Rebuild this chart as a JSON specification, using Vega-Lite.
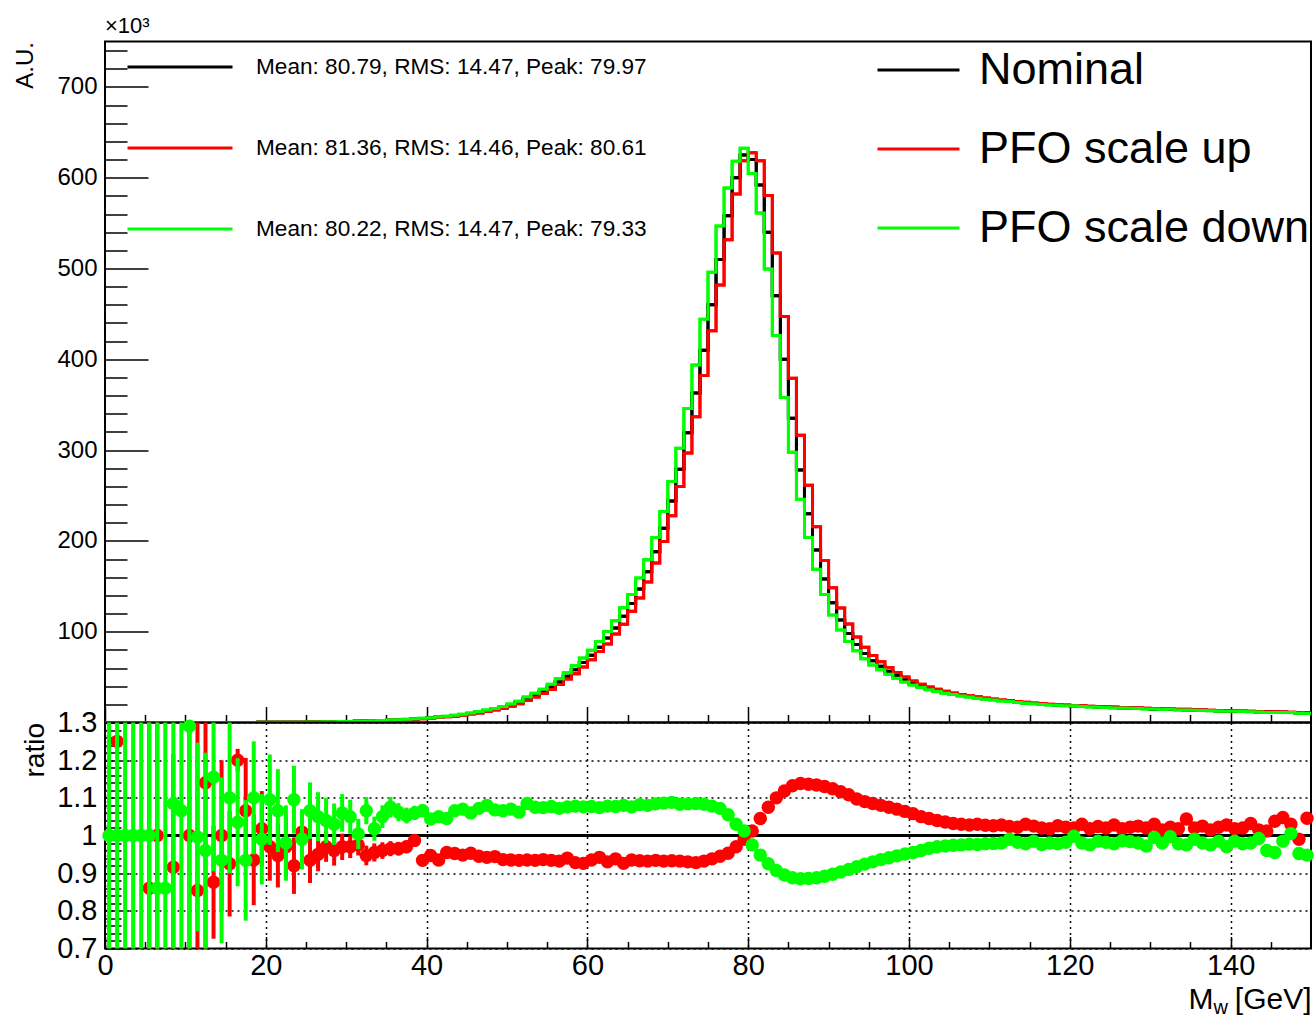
{
"$schema": "https://vega.github.io/schema/vega-lite/v6.json",
"autosize": {"type": "pad"},
"padding": {"left": 11, "top": 12.5, "right": 0, "bottom": 0},
"background": "white",
"spacing": 0,
"bounds": "flush",
"config": {
  "font": "Liberation Sans",
  "view": {"stroke": "black", "strokeWidth": 2},
  "axis": {"domain": false, "labelColor": "black", "titleColor": "black", "tickColor": "black", "labelFont": "Liberation Sans", "titleFont": "Liberation Sans", "titleFontWeight": "normal", "grid": false, "tickWidth": 1.5, "labelFlush": false, "labelOverlap": false},
  "legend": {"labelFont": "Liberation Sans", "labelColor": "black"}
},
"datasets": {
"hist": [
{"x":0,"n":0.002,"u":0.002,"d":0.002},{"x":1,"n":0.003,"u":0.003,"d":0.003},{"x":2,"n":0.004,"u":0.004,"d":0.004},{"x":3,"n":0.005,"u":0.005,"d":0.005},{"x":4,"n":0.006,"u":0.006,"d":0.006},{"x":5,"n":0.008,"u":0.008,"d":0.008},{"x":6,"n":0.01,"u":0.01,"d":0.01},{"x":7,"n":0.013,"u":0.013,"d":0.013},{"x":8,"n":0.016,"u":0.016,"d":0.016},{"x":9,"n":0.02,"u":0.02,"d":0.02},
{"x":10,"n":0.025,"u":0.025,"d":0.025},{"x":11,"n":0.03,"u":0.03,"d":0.03},{"x":12,"n":0.037,"u":0.037,"d":0.037},{"x":13,"n":0.045,"u":0.045,"d":0.045},{"x":14,"n":0.055,"u":0.055,"d":0.055},{"x":15,"n":0.067,"u":0.067,"d":0.067},{"x":16,"n":0.08,"u":0.08,"d":0.08},{"x":17,"n":0.1,"u":0.1,"d":0.1},{"x":18,"n":0.12,"u":0.12,"d":0.12},{"x":19,"n":0.15,"u":0.15,"d":0.15},
{"x":20,"n":0.18,"u":0.18,"d":0.18},{"x":21,"n":0.22,"u":0.22,"d":0.22},{"x":22,"n":0.27,"u":0.27,"d":0.27},{"x":23,"n":0.33,"u":0.33,"d":0.33},{"x":24,"n":0.4,"u":0.4,"d":0.4},{"x":25,"n":0.48,"u":0.48,"d":0.48},{"x":26,"n":0.58,"u":0.58,"d":0.58},{"x":27,"n":0.7,"u":0.7,"d":0.7},{"x":28,"n":0.83,"u":0.83,"d":0.83},{"x":29,"n":0.98,"u":0.98,"d":0.98},
{"x":30,"n":1.15,"u":1.12,"d":1.21},{"x":31,"n":1.35,"u":1.32,"d":1.36},{"x":32,"n":1.57,"u":1.49,"d":1.67},{"x":33,"n":1.82,"u":1.74,"d":1.85},{"x":34,"n":2.1,"u":2.02,"d":2.21},{"x":35,"n":2.45,"u":2.36,"d":2.63},{"x":36,"n":2.85,"u":2.75,"d":3.03},{"x":37,"n":3.3,"u":3.2,"d":3.47},{"x":38,"n":3.8,"u":3.75,"d":4.03},{"x":39,"n":4.4,"u":4.11,"d":4.69},
{"x":40,"n":5.1,"u":4.83,"d":5.32},{"x":41,"n":5.8,"u":5.42,"d":6.09},{"x":42,"n":6.6,"u":6.3,"d":6.9},{"x":43,"n":7.5,"u":7.14,"d":8},{"x":44,"n":8.6,"u":8.15,"d":9.2},{"x":45,"n":9.8,"u":9.34,"d":10.39},{"x":46,"n":11.2,"u":10.58,"d":12.01},{"x":47,"n":12.8,"u":12.06,"d":13.82},{"x":48,"n":14.5,"u":13.69,"d":15.49},{"x":49,"n":16.5,"u":15.44,"d":17.59},
{"x":50,"n":19,"u":17.77,"d":20.33},{"x":51,"n":22,"u":20.55,"d":23.36},{"x":52,"n":26,"u":24.31,"d":28.21},{"x":53,"n":30,"u":28.02,"d":32.25},{"x":54,"n":34,"u":31.82,"d":36.52},{"x":55,"n":39,"u":36.43,"d":42},{"x":56,"n":45,"u":41.94,"d":48.24},{"x":57,"n":51,"u":47.94,"d":54.88},{"x":58,"n":58,"u":53.82,"d":62.52},{"x":59,"n":66,"u":61.12,"d":71.02},
{"x":60,"n":74,"u":69.19,"d":79.7},{"x":61,"n":83,"u":78.19,"d":89.14},{"x":62,"n":93,"u":86.49,"d":100.25},{"x":63,"n":104,"u":97.55,"d":112.01},{"x":64,"n":117,"u":108.34,"d":126.36},{"x":65,"n":131,"u":122.49,"d":140.96},{"x":66,"n":147,"u":137.15,"d":159.05},{"x":67,"n":166,"u":154.71,"d":179.28},{"x":68,"n":188,"u":175.59,"d":203.79},{"x":69,"n":214,"u":199.45,"d":232.4},
{"x":70,"n":244,"u":227.65,"d":265.47},{"x":71,"n":279,"u":260.03,"d":302.16},{"x":72,"n":319,"u":296.67,"d":345.8},{"x":73,"n":363,"u":336.86,"d":393.86},{"x":74,"n":410,"u":382.12,"d":444.03},{"x":75,"n":460,"u":431.48,"d":495.88},{"x":76,"n":510,"u":481.95,"d":546.72},{"x":77,"n":558,"u":531.77,"d":588.69},{"x":78,"n":600,"u":582,"d":618},{"x":79,"n":625,"u":618.75,"d":632.5},
{"x":80,"n":620,"u":627.4,"d":604.5},{"x":81,"n":592,"u":618.6,"d":561.2},{"x":82,"n":540,"u":580.5,"d":499.5},{"x":83,"n":470,"u":517,"d":426.3},{"x":84,"n":400,"u":447.2,"d":358},{"x":85,"n":335,"u":379.2,"d":297.5},{"x":86,"n":278,"u":316.4,"d":246},{"x":87,"n":230,"u":261.3,"d":203.8},{"x":88,"n":190,"u":215.5,"d":168.7},{"x":89,"n":158,"u":178.5,"d":140.9},
{"x":90,"n":132,"u":148.4,"d":118.4},{"x":91,"n":113,"u":126.1,"d":102},{"x":92,"n":98,"u":108.6,"d":89.2},{"x":93,"n":86,"u":94.3,"d":78.9},{"x":94,"n":76,"u":82.8,"d":70.2},{"x":95,"n":68,"u":73.8,"d":63.2},{"x":96,"n":62,"u":67,"d":58},{"x":97,"n":56.5,"u":60.7,"d":53.2},{"x":98,"n":51.5,"u":55.1,"d":48.7},{"x":99,"n":47,"u":50,"d":44.7},
{"x":100,"n":43.3,"u":45.8,"d":41.4},{"x":101,"n":40.2,"u":42.2,"d":38.6},{"x":102,"n":37.5,"u":39.2,"d":36.2},{"x":103,"n":35.2,"u":36.6,"d":34.1},{"x":104,"n":33.2,"u":34.4,"d":32.3},{"x":105,"n":31.5,"u":32.5,"d":30.7},{"x":106,"n":30,"u":30.9,"d":29.3},{"x":107,"n":28.7,"u":29.5,"d":28},{"x":108,"n":27.5,"u":28.3,"d":26.8},{"x":109,"n":26.3,"u":27,"d":25.7},
{"x":110,"n":25.2,"u":25.9,"d":24.7},{"x":111,"n":24.2,"u":24.9,"d":23.7},{"x":112,"n":23.3,"u":23.9,"d":23.1},{"x":113,"n":22.5,"u":23,"d":22.1},{"x":114,"n":21.7,"u":22.4,"d":21.2},{"x":115,"n":21,"u":21.5,"d":20.7},{"x":116,"n":20.4,"u":20.8,"d":19.9},{"x":117,"n":19.8,"u":20.2,"d":19.4},{"x":118,"n":19.3,"u":19.8,"d":18.9},{"x":119,"n":18.8,"u":19.2,"d":18.5},
{"x":120,"n":18.4,"u":18.8,"d":18.4},{"x":121,"n":18,"u":18.5,"d":17.6},{"x":122,"n":17.6,"u":17.9,"d":17.2},{"x":123,"n":17.2,"u":17.6,"d":16.9},{"x":124,"n":16.9,"u":17.2,"d":16.6},{"x":125,"n":16.5,"u":17,"d":16.1},{"x":126,"n":16.2,"u":16.5,"d":16},{"x":127,"n":15.9,"u":16.2,"d":15.6},{"x":128,"n":15.6,"u":16,"d":15.3},{"x":129,"n":15.3,"u":15.6,"d":14.9},
{"x":130,"n":15,"u":15.5,"d":14.9},{"x":131,"n":14.7,"u":14.9,"d":14.4},{"x":132,"n":14.5,"u":14.8,"d":14.5},{"x":133,"n":14.2,"u":14.5,"d":13.9},{"x":134,"n":14,"u":14.6,"d":13.7},{"x":135,"n":13.7,"u":14,"d":13.6},{"x":136,"n":13.5,"u":13.8,"d":13.2},{"x":137,"n":13.2,"u":13.4,"d":12.9},{"x":138,"n":13,"u":13.3,"d":12.8},{"x":139,"n":12.8,"u":13.2,"d":12.4},
{"x":140,"n":12.5,"u":12.7,"d":12.3},{"x":141,"n":12.3,"u":12.5,"d":12},{"x":142,"n":12.1,"u":12.5,"d":11.9},{"x":143,"n":11.8,"u":12,"d":11.7},{"x":144,"n":11.6,"u":11.7,"d":11.1},{"x":145,"n":11.4,"u":11.8,"d":10.9},{"x":146,"n":11.2,"u":11.7,"d":11},{"x":147,"n":11,"u":11.3,"d":11.1},{"x":148,"n":10.8,"u":10.7,"d":10.3},{"x":149,"n":10.6,"u":11.1,"d":10},
{"x":150,"n":10.6,"u":11.1,"d":10}
],
"ratio": [
{"c":0.5,"r":null,"re":null,"g":1.0,"ge":0.8},{"c":1.5,"r":1.25,"re":0,"g":1.0,"ge":0.8},{"c":2.5,"r":null,"re":null,"g":1.0,"ge":0.8},{"c":3.5,"r":null,"re":null,"g":1.0,"ge":0.8},{"c":4.5,"r":null,"re":null,"g":1.0,"ge":0.8},
{"c":5.5,"r":0.86,"re":0.8,"g":1.0,"ge":0.8},{"c":6.5,"r":1.0,"re":0.8,"g":0.86,"ge":0.8},{"c":7.5,"r":null,"re":null,"g":0.86,"ge":0.8},{"c":8.5,"r":0.916,"re":0.3,"g":1.085,"ge":0.8},{"c":9.5,"r":null,"re":null,"g":1.066,"ge":0.8},
{"c":10.5,"r":1.0,"re":0.8,"g":1.29,"ge":0.8},{"c":11.5,"r":0.854,"re":0.6,"g":0.996,"ge":0.25},{"c":12.5,"r":1.14,"re":0.45,"g":0.96,"ge":0.26},{"c":13.5,"r":0.876,"re":0.15,"g":1.155,"ge":0.25},{"c":14.5,"r":1.0,"re":0.2,"g":0.934,"ge":0.22},
{"c":15.5,"r":0.925,"re":0.14,"g":1.1,"ge":0.2},{"c":16.5,"r":1.2,"re":0.03,"g":1.035,"ge":0.17},{"c":17.5,"r":1.066,"re":0.14,"g":0.934,"ge":0.16},{"c":18.5,"r":0.935,"re":0.12,"g":1.1,"ge":0.15},{"c":19.5,"r":1.018,"re":0.1,"g":0.99,"ge":0.12},
{"c":20.5,"r":0.97,"re":0.09,"g":1.095,"ge":0.12},{"c":21.5,"r":0.947,"re":0.085,"g":1.066,"ge":0.11},{"c":22.5,"r":0.97,"re":0.08,"g":0.98,"ge":0.1},{"c":23.5,"r":0.92,"re":0.075,"g":1.095,"ge":0.09},{"c":24.5,"r":1.009,"re":0.05,"g":0.99,"ge":0.08},
{"c":25.5,"r":0.934,"re":0.06,"g":1.066,"ge":0.075},{"c":26.5,"r":0.95,"re":0.045,"g":1.05,"ge":0.065},{"c":27.5,"r":0.97,"re":0.04,"g":1.04,"ge":0.06},{"c":28.5,"r":0.96,"re":0.04,"g":1.03,"ge":0.055},{"c":29.5,"r":0.97,"re":0.035,"g":1.06,"ge":0.05},
{"c":30.5,"r":0.97,"re":0.03,"g":1.05,"ge":0.045},{"c":31.5,"r":0.975,"re":0.028,"g":1.004,"ge":0.04},{"c":32.5,"r":0.947,"re":0.026,"g":1.066,"ge":0.036},{"c":33.5,"r":0.955,"re":0.024,"g":1.018,"ge":0.032},{"c":34.5,"r":0.96,"re":0.022,"g":1.05,"ge":0.03},
{"c":35.5,"r":0.965,"re":0.02,"g":1.075,"ge":0.027},{"c":36.5,"r":0.965,"re":0.018,"g":1.062,"ge":0.024},{"c":37.5,"r":0.97,"re":0.017,"g":1.053,"ge":0.021},{"c":38.5,"r":0.987,"re":0.016,"g":1.06,"ge":0.019},{"c":39.5,"r":0.934,"re":0.015,"g":1.066,"ge":0.017},
{"c":40.5,"r":0.947,"re":0.013,"g":1.044,"ge":0.015},{"c":41.5,"r":0.935,"re":0.012,"g":1.05,"ge":0.013},{"c":42.5,"r":0.955,"re":0.011,"g":1.045,"ge":0.012},{"c":43.5,"r":0.952,"re":0.01,"g":1.066,"ge":0.011},{"c":44.5,"r":0.948,"re":0.01,"g":1.07,"ge":0.01},
{"c":45.5,"r":0.953,"re":0.009,"g":1.06,"ge":0.009},{"c":46.5,"r":0.945,"re":0.009,"g":1.072,"ge":0.009},{"c":47.5,"r":0.942,"re":0.009,"g":1.08,"ge":0.009},{"c":48.5,"r":0.944,"re":0.009,"g":1.068,"ge":0.009},{"c":49.5,"r":0.936,"re":0.009,"g":1.066,"ge":0.009},
{"c":50.5,"r":0.935,"re":0.007,"g":1.07,"ge":0.007},{"c":51.5,"r":0.934,"re":0.007,"g":1.062,"ge":0.007},{"c":52.5,"r":0.935,"re":0.007,"g":1.085,"ge":0.007},{"c":53.5,"r":0.934,"re":0.007,"g":1.075,"ge":0.007},{"c":54.5,"r":0.936,"re":0.007,"g":1.074,"ge":0.007},
{"c":55.5,"r":0.934,"re":0.007,"g":1.077,"ge":0.007},{"c":56.5,"r":0.932,"re":0.007,"g":1.072,"ge":0.007},{"c":57.5,"r":0.94,"re":0.007,"g":1.076,"ge":0.007},{"c":58.5,"r":0.928,"re":0.007,"g":1.078,"ge":0.007},{"c":59.5,"r":0.926,"re":0.007,"g":1.076,"ge":0.007},
{"c":60.5,"r":0.935,"re":0.005,"g":1.077,"ge":0.005},{"c":61.5,"r":0.942,"re":0.005,"g":1.074,"ge":0.005},{"c":62.5,"r":0.93,"re":0.005,"g":1.078,"ge":0.005},{"c":63.5,"r":0.938,"re":0.005,"g":1.077,"ge":0.005},{"c":64.5,"r":0.926,"re":0.005,"g":1.08,"ge":0.005},
{"c":65.5,"r":0.935,"re":0.005,"g":1.076,"ge":0.005},{"c":66.5,"r":0.933,"re":0.005,"g":1.082,"ge":0.005},{"c":67.5,"r":0.932,"re":0.005,"g":1.08,"ge":0.005},{"c":68.5,"r":0.934,"re":0.005,"g":1.084,"ge":0.005},{"c":69.5,"r":0.932,"re":0.005,"g":1.086,"ge":0.005},
{"c":70.5,"r":0.933,"re":0.005,"g":1.088,"ge":0.005},{"c":71.5,"r":0.932,"re":0.005,"g":1.083,"ge":0.005},{"c":72.5,"r":0.93,"re":0.005,"g":1.084,"ge":0.005},{"c":73.5,"r":0.928,"re":0.005,"g":1.085,"ge":0.005},{"c":74.5,"r":0.932,"re":0.005,"g":1.083,"ge":0.005},
{"c":75.5,"r":0.938,"re":0.005,"g":1.078,"ge":0.005},{"c":76.5,"r":0.945,"re":0.005,"g":1.072,"ge":0.005},{"c":77.5,"r":0.953,"re":0.005,"g":1.055,"ge":0.005},{"c":78.5,"r":0.97,"re":0.005,"g":1.03,"ge":0.005},{"c":79.5,"r":0.99,"re":0.005,"g":1.012,"ge":0.005},
{"c":80.5,"r":1.012,"re":0.005,"g":0.975,"ge":0.005},{"c":81.5,"r":1.045,"re":0.005,"g":0.948,"ge":0.005},{"c":82.5,"r":1.075,"re":0.005,"g":0.925,"ge":0.005},{"c":83.5,"r":1.1,"re":0.005,"g":0.907,"ge":0.005},{"c":84.5,"r":1.118,"re":0.005,"g":0.895,"ge":0.005},
{"c":85.5,"r":1.132,"re":0.005,"g":0.888,"ge":0.005},{"c":86.5,"r":1.138,"re":0.005,"g":0.885,"ge":0.005},{"c":87.5,"r":1.136,"re":0.005,"g":0.886,"ge":0.005},{"c":88.5,"r":1.134,"re":0.005,"g":0.888,"ge":0.005},{"c":89.5,"r":1.13,"re":0.005,"g":0.892,"ge":0.005},
{"c":90.5,"r":1.124,"re":0.005,"g":0.897,"ge":0.005},{"c":91.5,"r":1.116,"re":0.005,"g":0.903,"ge":0.005},{"c":92.5,"r":1.108,"re":0.005,"g":0.91,"ge":0.005},{"c":93.5,"r":1.097,"re":0.005,"g":0.917,"ge":0.005},{"c":94.5,"r":1.09,"re":0.005,"g":0.924,"ge":0.005},
{"c":95.5,"r":1.085,"re":0.005,"g":0.93,"ge":0.005},{"c":96.5,"r":1.08,"re":0.005,"g":0.936,"ge":0.005},{"c":97.5,"r":1.075,"re":0.005,"g":0.941,"ge":0.005},{"c":98.5,"r":1.07,"re":0.005,"g":0.946,"ge":0.005},{"c":99.5,"r":1.064,"re":0.005,"g":0.951,"ge":0.005},
{"c":100.5,"r":1.058,"re":0.005,"g":0.955,"ge":0.005},{"c":101.5,"r":1.05,"re":0.007,"g":0.96,"ge":0.007},{"c":102.5,"r":1.045,"re":0.007,"g":0.966,"ge":0.007},{"c":103.5,"r":1.04,"re":0.007,"g":0.97,"ge":0.007},{"c":104.5,"r":1.036,"re":0.007,"g":0.972,"ge":0.007},
{"c":105.5,"r":1.032,"re":0.007,"g":0.974,"ge":0.007},{"c":106.5,"r":1.03,"re":0.007,"g":0.975,"ge":0.007},{"c":107.5,"r":1.028,"re":0.007,"g":0.977,"ge":0.007},{"c":108.5,"r":1.03,"re":0.007,"g":0.976,"ge":0.007},{"c":109.5,"r":1.027,"re":0.007,"g":0.978,"ge":0.007},
{"c":110.5,"r":1.026,"re":0.007,"g":0.979,"ge":0.007},{"c":111.5,"r":1.028,"re":0.007,"g":0.98,"ge":0.007},{"c":112.5,"r":1.024,"re":0.007,"g":0.99,"ge":0.007},{"c":113.5,"r":1.022,"re":0.007,"g":0.982,"ge":0.007},{"c":114.5,"r":1.03,"re":0.007,"g":0.978,"ge":0.007},
{"c":115.5,"r":1.025,"re":0.007,"g":0.985,"ge":0.007},{"c":116.5,"r":1.02,"re":0.007,"g":0.976,"ge":0.007},{"c":117.5,"r":1.018,"re":0.007,"g":0.98,"ge":0.007},{"c":118.5,"r":1.026,"re":0.007,"g":0.978,"ge":0.007},{"c":119.5,"r":1.022,"re":0.007,"g":0.982,"ge":0.007},
{"c":120.5,"r":1.02,"re":0.007,"g":0.998,"ge":0.007},{"c":121.5,"r":1.03,"re":0.01,"g":0.98,"ge":0.01},{"c":122.5,"r":1.018,"re":0.01,"g":0.975,"ge":0.01},{"c":123.5,"r":1.024,"re":0.01,"g":0.985,"ge":0.01},{"c":124.5,"r":1.02,"re":0.01,"g":0.982,"ge":0.01},
{"c":125.5,"r":1.028,"re":0.01,"g":0.978,"ge":0.01},{"c":126.5,"r":1.018,"re":0.01,"g":0.986,"ge":0.01},{"c":127.5,"r":1.022,"re":0.01,"g":0.984,"ge":0.01},{"c":128.5,"r":1.025,"re":0.01,"g":0.98,"ge":0.01},{"c":129.5,"r":1.02,"re":0.01,"g":0.972,"ge":0.01},
{"c":130.5,"r":1.03,"re":0.01,"g":0.995,"ge":0.01},{"c":131.5,"r":1.015,"re":0.01,"g":0.98,"ge":0.01},{"c":132.5,"r":1.022,"re":0.01,"g":0.997,"ge":0.01},{"c":133.5,"r":1.018,"re":0.01,"g":0.978,"ge":0.01},{"c":134.5,"r":1.044,"re":0.01,"g":0.975,"ge":0.01},
{"c":135.5,"r":1.02,"re":0.01,"g":0.99,"ge":0.01},{"c":136.5,"r":1.025,"re":0.01,"g":0.98,"ge":0.01},{"c":137.5,"r":1.015,"re":0.01,"g":0.975,"ge":0.01},{"c":138.5,"r":1.022,"re":0.01,"g":0.985,"ge":0.01},{"c":139.5,"r":1.028,"re":0.01,"g":0.97,"ge":0.01},
{"c":140.5,"r":1.018,"re":0.01,"g":0.985,"ge":0.01},{"c":141.5,"r":1.02,"re":0.01,"g":0.978,"ge":0.01},{"c":142.5,"r":1.032,"re":0.01,"g":0.98,"ge":0.01},{"c":143.5,"r":1.015,"re":0.01,"g":0.992,"ge":0.01},{"c":144.5,"r":1.012,"re":0.01,"g":0.96,"ge":0.01},
{"c":145.5,"r":1.038,"re":0.01,"g":0.955,"ge":0.01},{"c":146.5,"r":1.048,"re":0.01,"g":0.985,"ge":0.01},{"c":147.5,"r":1.03,"re":0.01,"g":1.005,"ge":0.01},{"c":148.5,"r":0.99,"re":0.01,"g":0.952,"ge":0.01},{"c":149.5,"r":1.046,"re":0.01,"g":0.948,"ge":0.01}
]
},
"vconcat": [
{
  "width": 1206, "height": 681,
  "title": {"text": "×10³", "anchor": "start", "frame": "group", "fontSize": 22, "fontWeight": "normal", "font": "Liberation Sans", "offset": 4, "color": "black"},
  "data": {"name": "hist"},
  "transform": [
    {"fold": ["n", "u", "d"], "as": ["key", "value"]},
    {"lookup": "key", "from": {"data": {"values": [
      {"key": "n", "series": "Nominal", "stats": "Mean: 80.79, RMS: 14.47, Peak: 79.97"},
      {"key": "u", "series": "PFO scale up", "stats": "Mean: 81.36, RMS: 14.46, Peak: 80.61"},
      {"key": "d", "series": "PFO scale down", "stats": "Mean: 80.22, RMS: 14.47, Peak: 79.33"}
    ]}, "key": "key", "fields": ["series", "stats"]}}
  ],
  "layer": [
    {
      "mark": {"type": "line", "interpolate": "step-after", "strokeWidth": 3, "clip": true},
      "encoding": {
        "x": {"field": "x", "type": "quantitative", "scale": {"domain": [0, 150], "nice": false, "zero": false},
              "axis": {"orient": "bottom", "values": [0, 20, 40, 60, 80, 100, 120, 140], "tickSize": -16, "labels": false, "title": null}},
        "y": {"field": "value", "type": "quantitative", "scale": {"domain": [0, 750], "nice": false},
              "axis": {"orient": "left", "values": [100, 200, 300, 400, 500, 600, 700], "tickSize": -43, "labelFontSize": 24, "labelPadding": 51,
                       "title": "A.U.", "titleFontSize": 24, "titleAngle": -90, "titleAlign": "right", "titleBaseline": "top", "titleX": -92, "titleY": 0}},
        "color": {"field": "stats", "type": "nominal",
                  "scale": {"domain": ["Mean: 80.79, RMS: 14.47, Peak: 79.97", "Mean: 81.36, RMS: 14.46, Peak: 80.61", "Mean: 80.22, RMS: 14.47, Peak: 79.33"], "range": ["#000000", "#ff0000", "#00ff00"]},
                  "legend": {"orient": "none", "legendX": 21, "legendY": -28.5, "title": null, "symbolType": "stroke", "symbolSize": 11025, "symbolStrokeWidth": 3,
                             "labelFontSize": 22.6, "labelOffset": 22, "rowPadding": 15, "padding": 0, "labelLimit": 1000}}
      }
    },
    {
      "mark": {"type": "line", "interpolate": "step-after", "strokeWidth": 3, "clip": true},
      "encoding": {
        "x": {"field": "x", "type": "quantitative", "scale": {"domain": [0, 150], "nice": false, "zero": false},
              "axis": {"orient": "bottom", "values": [5, 10, 15, 25, 30, 35, 45, 50, 55, 65, 70, 75, 85, 90, 95, 105, 110, 115, 125, 130, 135, 145], "tickSize": -8, "labels": false, "title": null}},
        "y": {"field": "value", "type": "quantitative", "scale": {"domain": [0, 750], "nice": false},
              "axis": {"orient": "left", "values": [20, 40, 60, 80, 120, 140, 160, 180, 220, 240, 260, 280, 320, 340, 360, 380, 420, 440, 460, 480, 520, 540, 560, 580, 620, 640, 660, 680, 720, 740], "tickSize": -22, "labels": false, "title": null}},
        "stroke": {"field": "series", "type": "nominal",
                   "scale": {"domain": ["Nominal", "PFO scale up", "PFO scale down"], "range": ["#000000", "#ff0000", "#00ff00"]},
                   "legend": {"orient": "none", "legendX": 771, "legendY": -14, "title": null, "symbolType": "stroke", "symbolSize": 6724, "symbolStrokeWidth": 3,
                              "labelFontSize": 45, "labelOffset": 18, "rowPadding": 13, "padding": 0, "labelLimit": 1000}}
      }
    }
  ],
  "resolve": {"axis": {"x": "independent", "y": "independent"}}
},
{
  "width": 1206, "height": 226,
  "data": {"name": "ratio"},
  "layer": [
    {
      "mark": {"type": "rule", "color": "black", "strokeWidth": 3},
      "encoding": {"y": {"datum": 1, "type": "quantitative", "scale": {"domain": [0.7, 1.3], "nice": false, "zero": false, "clamp": true}, "axis": null}}
    },
    {
      "transform": [{"filter": "isValid(datum.r)"}],
      "mark": {"type": "errorbar", "color": "#ff0000", "thickness": 4},
      "encoding": {
        "x": {"field": "c", "type": "quantitative", "scale": {"domain": [0, 150], "nice": false, "zero": false},
              "axis": {"orient": "bottom", "values": [0, 20, 40, 60, 80, 100, 120, 140], "tickSize": -12, "labelFontSize": 29, "labelPadding": 15,
                       "grid": true, "gridDash": [2, 4], "gridColor": "black", "gridWidth": 1.5, "gridOpacity": 1,
                       "title": "[GeV]", "titleFontSize": 30, "titleAlign": "right", "titleAnchor": "end", "titleX": 1206, "titleY": 60, "titleBaseline": "alphabetic"}},
        "y": {"field": "r", "type": "quantitative", "scale": {"domain": [0.7, 1.3], "nice": false, "zero": false, "clamp": true},
              "axis": {"orient": "left", "values": [0.7, 0.8, 0.9, 1, 1.1, 1.2, 1.3], "format": "~g", "tickSize": -24, "labelFontSize": 29, "labelPadding": 32,
                       "grid": true, "gridDash": [2, 4], "gridColor": "black", "gridWidth": 1.5, "gridOpacity": 1,
                       "title": "ratio", "titleFontSize": 28, "titleAngle": -90, "titleAlign": "right", "titleBaseline": "top", "titleX": -84, "titleY": 0}},
        "yError": {"field": "re"}
      }
    },
    {
      "transform": [{"filter": "isValid(datum.r)"}],
      "mark": {"type": "circle", "color": "#ff0000", "size": 180, "opacity": 1},
      "encoding": {
        "x": {"field": "c", "type": "quantitative", "scale": {"domain": [0, 150], "nice": false, "zero": false},
              "axis": {"orient": "bottom", "values": [5, 10, 15, 25, 30, 35, 45, 50, 55, 65, 70, 75, 85, 90, 95, 105, 110, 115, 125, 130, 135, 145], "tickSize": -7, "labels": false, "title": null}},
        "y": {"field": "r", "type": "quantitative", "scale": {"domain": [0.7, 1.3], "nice": false, "zero": false, "clamp": true},
              "axis": {"orient": "left", "values": [0.72, 0.74, 0.76, 0.78, 0.82, 0.84, 0.86, 0.88, 0.92, 0.94, 0.96, 0.98, 1.02, 1.04, 1.06, 1.08, 1.12, 1.14, 1.16, 1.18, 1.22, 1.24, 1.26, 1.28], "tickSize": -16, "labels": false, "title": null}}
      }
    },
    {
      "mark": {"type": "errorbar", "color": "#00ff00", "thickness": 4},
      "encoding": {
        "x": {"field": "c", "type": "quantitative", "scale": {"domain": [0, 150], "nice": false, "zero": false},
              "axis": {"orient": "bottom", "ticks": false, "labels": false, "grid": false, "title": "M", "titleFontSize": 30, "titleAlign": "left", "titleX": 1083, "titleY": 60, "titleBaseline": "alphabetic"}},
        "y": {"field": "g", "type": "quantitative", "scale": {"domain": [0.7, 1.3], "nice": false, "zero": false, "clamp": true}, "axis": null},
        "yError": {"field": "ge"}
      }
    },
    {
      "mark": {"type": "circle", "color": "#00ff00", "size": 180, "opacity": 1},
      "encoding": {
        "x": {"field": "c", "type": "quantitative", "scale": {"domain": [0, 150], "nice": false, "zero": false},
              "axis": {"orient": "bottom", "ticks": false, "labels": false, "grid": false, "title": "w", "titleFontSize": 20, "titleAlign": "left", "titleX": 1108, "titleY": 65, "titleBaseline": "alphabetic"}},
        "y": {"field": "g", "type": "quantitative", "scale": {"domain": [0.7, 1.3], "nice": false, "zero": false, "clamp": true}, "axis": null}
      }
    }
  ],
  "resolve": {"axis": {"x": "independent", "y": "independent"}}
}
]
}
